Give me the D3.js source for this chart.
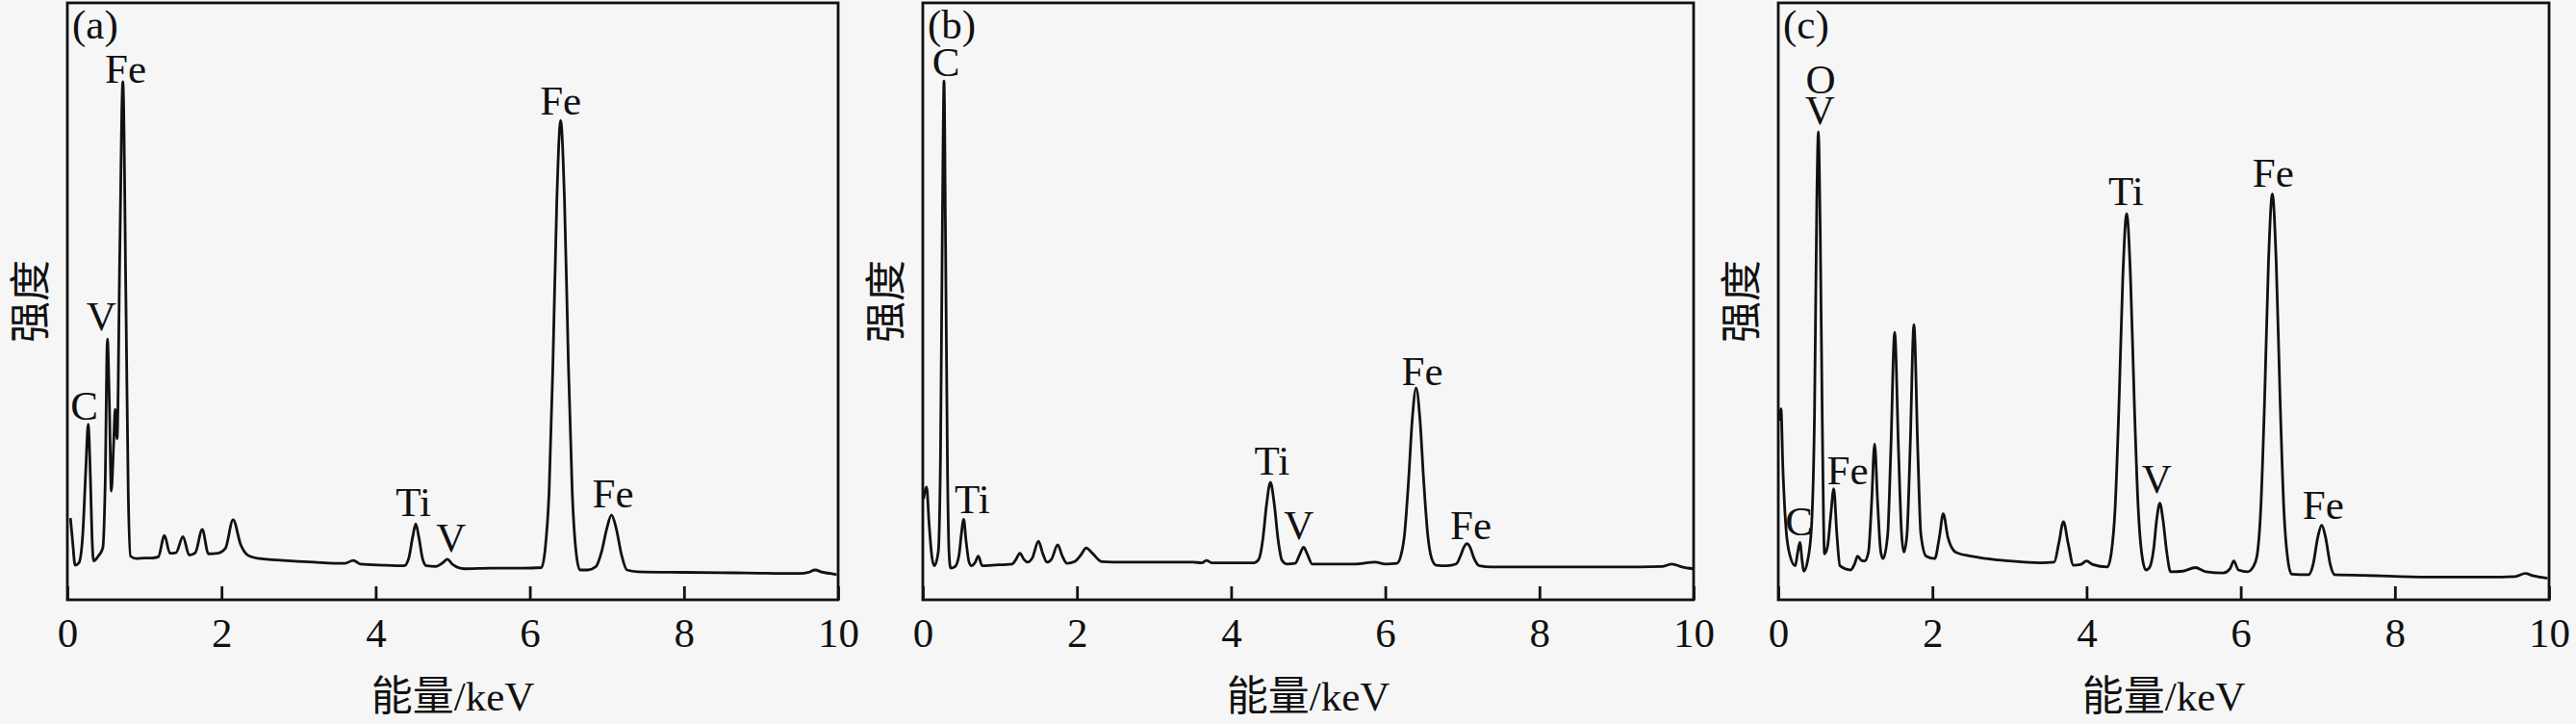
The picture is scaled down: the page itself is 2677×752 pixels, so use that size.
<!DOCTYPE html>
<html>
<head>
<meta charset="utf-8">
<script src="https://cdn.jsdelivr.net/npm/d3@7"></script>
<style>
  body { margin: 0; background: #f6f6f6; }
  svg { display: block; }
  text { font-family: "Liberation Serif", "Noto Sans CJK SC", serif; fill: #111; }
</style>
</head>
<body>
<svg id="chart"></svg>
<script>
const width = 2677, height = 752;

// tick labels on the energy axis (keV)
const energyTicks = [0, 2, 4, 6, 8, 10];
const panelTags = ["(a)", "(b)", "(c)"];

// spectra: [energy keV, intensity (0-100 of the frame height)]
const spectrumA = [
  [0.04, 13.7], [0.07, 9.5], [0.10, 5.8], [0.15, 6.2], [0.20, 11.0], [0.24, 22.0], [0.27, 29.4],
  [0.30, 20.0], [0.32, 10.5], [0.34, 6.5], [0.40, 7.3], [0.46, 8.7], [0.49, 19.0], [0.52, 43.7],
  [0.545, 33.0], [0.57, 18.2], [0.60, 26.0], [0.62, 31.9], [0.645, 27.0], [0.68, 58.0], [0.72, 86.8],
  [0.76, 50.0], [0.79, 18.0], [0.82, 7.3], [0.9, 6.9], [1.0, 7.0], [1.1, 7.0], [1.18, 7.2],
  [1.26, 10.8], [1.33, 7.8], [1.41, 7.9], [1.50, 10.6], [1.58, 7.5], [1.66, 7.9], [1.75, 11.8],
  [1.83, 7.7], [1.95, 7.8], [2.05, 8.6], [2.15, 13.4], [2.25, 9.2], [2.35, 7.4], [2.5, 6.9],
  [2.8, 6.6], [3.2, 6.3], [3.6, 6.1], [3.71, 6.6], [3.8, 6.0], [4.1, 5.8], [4.37, 5.7], [4.43, 7.0],
  [4.48, 10.5], [4.52, 12.7], [4.56, 10.5], [4.61, 6.8], [4.66, 5.7], [4.78, 5.6], [4.88, 6.3],
  [4.93, 6.8], [5.0, 5.9], [5.15, 5.2], [5.5, 5.3], [5.9, 5.3], [6.15, 5.4], [6.20, 8.6],
  [6.25, 18.1], [6.30, 39.8], [6.35, 66.8], [6.40, 80.3], [6.45, 66.8], [6.50, 39.8], [6.55, 18.1],
  [6.60, 8.0], [6.65, 5.0], [6.75, 5.0], [6.86, 5.6], [6.93, 8.0], [7.00, 12.0], [7.06, 14.2],
  [7.12, 12.0], [7.19, 7.5], [7.26, 5.0], [7.4, 4.7], [8.0, 4.6], [8.8, 4.5], [9.5, 4.4],
  [9.62, 4.6], [9.70, 5.0], [9.8, 4.6], [9.9, 4.4], [9.98, 4.2]
];
const spectrumB = [
  [0.01, 16.9], [0.05, 18.9], [0.08, 13.0], [0.12, 7.0], [0.15, 5.7], [0.20, 8.0], [0.23, 25.0],
  [0.255, 65.0], [0.275, 86.9], [0.295, 60.0], [0.32, 22.0], [0.34, 8.0], [0.36, 5.3], [0.42, 5.6],
  [0.47, 7.5], [0.50, 11.0], [0.53, 13.5], [0.56, 10.0], [0.60, 6.3], [0.63, 5.7], [0.68, 6.3],
  [0.72, 7.3], [0.77, 5.7], [0.9, 5.8], [1.16, 6.0], [1.21, 6.8], [1.26, 7.8], [1.31, 6.8],
  [1.36, 6.3], [1.42, 7.0], [1.50, 9.8], [1.56, 7.6], [1.61, 6.3], [1.67, 6.8], [1.75, 9.2],
  [1.81, 7.3], [1.87, 6.1], [1.97, 6.4], [2.05, 7.5], [2.12, 8.7], [2.2, 7.8], [2.32, 6.4],
  [2.6, 6.3], [3.0, 6.3], [3.5, 6.3], [3.62, 6.2], [3.68, 6.6], [3.75, 6.2], [4.04, 6.2],
  [4.30, 6.2], [4.36, 6.8], [4.41, 10.0], [4.46, 16.0], [4.51, 19.7], [4.56, 16.0], [4.61, 10.0],
  [4.66, 6.6], [4.72, 6.0], [4.83, 6.1], [4.89, 7.6], [4.94, 8.8], [4.99, 7.6], [5.05, 6.0],
  [5.26, 6.0], [5.6, 6.0], [5.87, 6.3], [6.0, 6.0], [6.15, 6.1], [6.20, 7.3], [6.25, 11.0],
  [6.30, 19.6], [6.35, 30.2], [6.40, 35.5], [6.45, 30.2], [6.50, 19.6], [6.55, 11.0], [6.60, 7.0],
  [6.66, 5.8], [6.8, 5.7], [6.92, 6.0], [6.98, 7.5], [7.02, 8.8], [7.06, 9.4], [7.10, 8.8],
  [7.15, 7.0], [7.22, 5.7], [7.38, 5.5], [8.0, 5.5], [9.0, 5.5], [9.6, 5.6], [9.72, 6.0],
  [9.85, 5.5], [9.99, 5.2]
];
const spectrumC = [
  [0.02, 30.0], [0.035, 32.0], [0.06, 22.0], [0.10, 12.0], [0.15, 7.5], [0.22, 5.7], [0.25, 7.8],
  [0.28, 9.6], [0.31, 6.5], [0.33, 4.8], [0.38, 6.5], [0.43, 12.0], [0.47, 31.0], [0.50, 67.0],
  [0.52, 78.4], [0.545, 61.0], [0.57, 31.0], [0.60, 7.7], [0.64, 9.0], [0.68, 14.0], [0.72, 18.6],
  [0.76, 11.0], [0.80, 5.7], [0.94, 5.0], [0.99, 6.0], [1.03, 7.3], [1.08, 6.6], [1.12, 6.5],
  [1.17, 8.0], [1.21, 16.0], [1.25, 26.1], [1.29, 16.0], [1.33, 8.0], [1.36, 6.9], [1.42, 11.0],
  [1.46, 25.0], [1.51, 44.8], [1.56, 25.0], [1.60, 11.0], [1.63, 8.0], [1.67, 11.0], [1.71, 25.0],
  [1.76, 46.1], [1.81, 25.0], [1.85, 11.0], [1.92, 7.3], [2.03, 6.9], [2.09, 10.5], [2.14, 14.4],
  [2.20, 10.5], [2.30, 8.0], [2.5, 7.3], [2.69, 6.9], [3.0, 6.5], [3.40, 6.2], [3.58, 6.3],
  [3.64, 9.5], [3.70, 13.1], [3.76, 9.5], [3.83, 5.8], [3.92, 5.9], [4.00, 6.5], [4.08, 5.9],
  [4.27, 5.5], [4.32, 7.8], [4.37, 15.3], [4.42, 32.6], [4.47, 54.0], [4.52, 64.7], [4.57, 54.0],
  [4.62, 32.6], [4.67, 15.3], [4.72, 7.3], [4.77, 5.0], [4.82, 5.5], [4.87, 8.5], [4.91, 13.5],
  [4.95, 16.2], [4.99, 13.5], [5.04, 8.0], [5.09, 4.7], [5.25, 4.8], [5.41, 5.4], [5.55, 4.7],
  [5.77, 4.5], [5.86, 5.2], [5.91, 6.5], [5.97, 5.0], [6.09, 4.7], [6.16, 5.5], [6.21, 7.3],
  [6.26, 15.3], [6.31, 33.7], [6.36, 56.6], [6.41, 68.0], [6.46, 56.6], [6.51, 33.7], [6.56, 15.0],
  [6.61, 6.8], [6.66, 4.3], [6.88, 4.2], [6.94, 6.0], [7.00, 10.5], [7.05, 12.5], [7.10, 10.5],
  [7.16, 6.0], [7.22, 4.2], [7.6, 4.1], [8.42, 3.8], [9.2, 3.8], [9.56, 3.9], [9.69, 4.4],
  [9.8, 4.0], [9.98, 3.6]
];

// peak labels: [element, energy keV, intensity at text baseline]
const labelsA = [["Fe", 0.755, 86.6], ["V", 0.44, 45.2], ["C", 0.22, 30.2], ["Ti", 4.49, 14.0],
  ["V", 4.98, 8.1], ["Fe", 6.40, 81.3], ["Fe", 7.08, 15.5]];
const labelsB = [["C", 0.30, 87.7], ["Ti", 0.64, 14.5], ["Ti", 4.53, 21.0], ["V", 4.88, 10.2],
  ["Fe", 6.48, 36.0], ["Fe", 7.11, 10.2]];
const labelsC = [["O", 0.55, 84.8], ["V", 0.54, 79.7], ["Fe", 0.90, 19.4], ["C", 0.27, 10.8],
  ["Ti", 4.51, 66.1], ["V", 4.91, 17.9], ["Fe", 6.42, 69.2], ["Fe", 7.07, 13.5]];

const spectra = [spectrumA, spectrumB, spectrumC];
const peakLabels = [labelsA, labelsB, labelsC];

const panelLeft = [70, 959, 1848];
const panelW = 801, plotTop = 3, plotBottom = 623;
const fontSize = 43;

const svg = d3.select("#chart")
  .attr("width", width)
  .attr("height", height);

svg.append("rect")
  .attr("width", width)
  .attr("height", height)
  .attr("fill", "#f6f6f6");

spectra.forEach(function(data, i) {
  const g = svg.append("g")
    .attr("transform", `translate(${panelLeft[i]},0)`);

  const x = d3.scaleLinear().domain([0, 10]).range([0, panelW]);
  const y = d3.scaleLinear().domain([0, 100]).range([plotBottom, plotTop]);

  // bottom axis, ticks pointing inward
  const axis = g.append("g")
    .attr("transform", `translate(0,${plotBottom})`)
    .call(d3.axisBottom(x).tickValues(energyTicks).tickSize(-14).tickPadding(18));
  axis.select(".domain").remove();
  axis.selectAll("line").attr("stroke", "#111").attr("stroke-width", 2.8);
  axis.selectAll("text")
    .style("font-family", "Liberation Serif")
    .style("font-size", fontSize + "px")
    .attr("fill", "#111");

  // frame
  g.append("rect")
    .attr("x", 0)
    .attr("y", plotTop)
    .attr("width", panelW)
    .attr("height", plotBottom - plotTop)
    .attr("fill", "none")
    .attr("stroke", "#111")
    .attr("stroke-width", 2.8);

  // spectrum line
  g.append("path")
    .datum(data)
    .attr("fill", "none")
    .attr("stroke", "#111")
    .attr("stroke-width", 2.8)
    .attr("stroke-linejoin", "round")
    .attr("d", d3.line()
      .x(d => x(d[0]))
      .y(d => y(d[1]))
      .curve(d3.curveMonotoneX));

  // peak labels
  g.selectAll("text.peak")
    .data(peakLabels[i])
    .enter().append("text")
    .attr("class", "peak")
    .attr("text-anchor", "middle")
    .attr("x", d => x(d[1]))
    .attr("y", d => y(d[2]))
    .style("font-size", fontSize + "px")
    .text(d => d[0]);

  // panel tag
  g.append("text")
    .attr("x", 5)
    .attr("y", 40)
    .style("font-size", fontSize + "px")
    .text(panelTags[i]);

  // axis titles
  g.append("text")
    .attr("text-anchor", "middle")
    .attr("x", panelW / 2)
    .attr("y", 738)
    .style("font-size", fontSize + "px")
    .text("能量/keV");

  g.append("text")
    .attr("text-anchor", "middle")
    .attr("dominant-baseline", "central")
    .attr("transform", `translate(-38,${(plotTop + plotBottom) / 2}) rotate(-90)`)
    .style("font-size", fontSize + "px")
    .text("强度");
});
</script>
</body>
</html>
